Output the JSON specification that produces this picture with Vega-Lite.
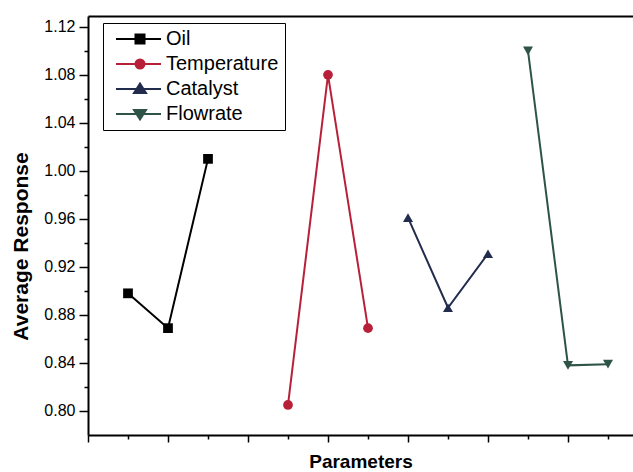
{
  "$schema": "https://vega.github.io/schema/vega-lite/v6.json",
  "width": 545,
  "height": 419,
  "autosize": {"type": "none"},
  "padding": {"left": 88, "top": 16, "right": 0, "bottom": 37},
  "background": "white",
  "config": {
    "font": "Liberation Sans",
    "view": {"stroke": null},
    "axis": {"grid": false, "domainColor": "black", "tickColor": "black", "labelColor": "black", "titleColor": "black"}
  },
  "data": {
    "values": [
      {"param": "Oil", "x": 1, "y": 0.898},
      {"param": "Oil", "x": 2, "y": 0.869},
      {"param": "Oil", "x": 3, "y": 1.010},
      {"param": "Temperature", "x": 5, "y": 0.805},
      {"param": "Temperature", "x": 6, "y": 1.080},
      {"param": "Temperature", "x": 7, "y": 0.869},
      {"param": "Catalyst", "x": 8, "y": 0.961},
      {"param": "Catalyst", "x": 9, "y": 0.886},
      {"param": "Catalyst", "x": 10, "y": 0.931},
      {"param": "Flowrate", "x": 11, "y": 1.100},
      {"param": "Flowrate", "x": 12, "y": 0.838},
      {"param": "Flowrate", "x": 13, "y": 0.839}
    ]
  },
  "resolve": {"axis": {"x": "independent", "y": "independent"}},
  "layer": [
    {
      "mark": {"type": "line", "strokeWidth": 2},
      "encoding": {
        "x": {"field": "x", "type": "quantitative", "scale": {"domain": [0, 13.625], "nice": false, "zero": false},
          "axis": {"orient": "bottom", "values": [0, 2, 4, 6, 8, 10, 12], "labels": false, "tickSize": 7, "tickWidth": 1.5, "domainWidth": 2,
            "title": "Parameters", "titleFontSize": 19, "titleFontWeight": "bold", "titlePadding": 10}},
        "y": {"field": "y", "type": "quantitative", "scale": {"domain": [0.78, 1.129], "nice": false, "zero": false},
          "axis": {"orient": "left", "values": [0.80, 0.84, 0.88, 0.92, 0.96, 1.00, 1.04, 1.08, 1.12], "format": ".2f",
            "labelFontSize": 16, "tickSize": 9, "tickWidth": 1.5, "labelPadding": 4, "domainWidth": 2,
            "title": "Average Response", "titleFontSize": 21, "titleFontWeight": "bold", "titlePadding": 12, "titleY": 230}},
        "color": {"field": "param", "type": "nominal",
          "scale": {"domain": ["Oil", "Temperature", "Catalyst", "Flowrate"], "range": ["#000000", "#b8203a", "#222c4c", "#2d5446"]},
          "legend": {"orient": "none", "legendX": 15, "legendY": 7, "title": null, "padding": 6, "rowPadding": 5,
            "strokeColor": "black", "fillColor": "white", "labelFontSize": 20, "labelColor": "black", "labelOffset": 37,
            "symbolSize": 100, "symbolOpacity": 1, "symbolStrokeWidth": 2}}
      }
    },
    {
      "transform": [{"filter": "datum.param === 'Oil'"}],
      "mark": {"type": "point", "shape": "square", "filled": true, "opacity": 1, "size": 95, "color": "#000000"},
      "encoding": {
        "x": {"field": "x", "type": "quantitative", "axis": null},
        "y": {"field": "y", "type": "quantitative", "axis": null}
      }
    },
    {
      "transform": [{"filter": "datum.param === 'Temperature'"}],
      "mark": {"type": "point", "shape": "circle", "filled": true, "opacity": 1, "size": 95, "color": "#b8203a"},
      "encoding": {
        "x": {"field": "x", "type": "quantitative", "axis": null},
        "y": {"field": "y", "type": "quantitative", "axis": null}
      }
    },
    {
      "transform": [{"filter": "datum.param === 'Catalyst'"}],
      "mark": {"type": "point", "shape": "triangle-up", "filled": true, "opacity": 1, "size": 100, "color": "#222c4c"},
      "encoding": {
        "x": {"field": "x", "type": "quantitative", "axis": null},
        "y": {"field": "y", "type": "quantitative", "axis": null}
      }
    },
    {
      "transform": [{"filter": "datum.param === 'Flowrate'"}],
      "mark": {"type": "point", "shape": "triangle-down", "filled": true, "opacity": 1, "size": 100, "color": "#2d5446"},
      "encoding": {
        "x": {"field": "x", "type": "quantitative", "axis": null},
        "y": {"field": "y", "type": "quantitative", "axis": null}
      }
    },
    {
      "transform": [{"filter": "datum.x < 0"}],
      "mark": {"type": "point", "filled": false, "opacity": 1, "strokeWidth": 2, "size": 100},
      "encoding": {
        "x": {"field": "x", "type": "quantitative", "axis": null},
        "y": {"field": "y", "type": "quantitative", "axis": null},
        "color": {"field": "param", "type": "nominal"},
        "shape": {"field": "param", "type": "nominal",
          "scale": {"domain": ["Oil", "Temperature", "Catalyst", "Flowrate"],
            "range": [
              "M-0.6,0H8.4M3.3,-0.9H5.1V0.9H3.3ZM3.7,-0.5H4.7V0.5H3.7ZM4.1,-0.1H4.3V0.1H4.1Z",
              "M-0.6,0H8.4M3.3,0A0.9,0.9 0 1,0 5.1,0A0.9,0.9 0 1,0 3.3,0ZM3.7,0A0.5,0.5 0 1,0 4.7,0A0.5,0.5 0 1,0 3.7,0ZM4.1,0A0.1,0.1 0 1,0 4.3,0A0.1,0.1 0 1,0 4.1,0Z",
              "M-0.6,0H8.4M4.2,-1.1L5.4,0.8H3.0ZM4.2,-0.47L4.8,0.48H3.6ZM4.2,-0.02L4.38,0.27H4.02Z",
              "M-0.6,0H8.4M4.2,1.1L5.4,-0.8H3.0ZM4.2,0.47L4.8,-0.48H3.6ZM4.2,0.02L4.38,-0.27H4.02Z"
            ]}}
      }
    },
    {
      "mark": {"type": "point", "opacity": 0},
      "encoding": {
        "x": {"field": "x", "type": "quantitative",
          "axis": {"orient": "bottom", "values": [1, 3, 5, 7, 9, 11, 13], "labels": false, "tickSize": 4, "tickWidth": 1.5, "domain": false, "title": null}},
        "y": {"field": "y", "type": "quantitative",
          "axis": {"orient": "left", "values": [0.82, 0.86, 0.90, 0.94, 0.98, 1.02, 1.06, 1.10], "labels": false, "tickSize": 4, "tickWidth": 1.5, "domain": false, "title": null}}
      }
    },
    {
      "mark": {"type": "point", "opacity": 0},
      "encoding": {
        "x": {"field": "x", "type": "quantitative",
          "axis": {"orient": "top", "labels": false, "ticks": false, "domainWidth": 2, "title": null}},
        "y": {"field": "y", "type": "quantitative", "axis": null}
      }
    }
  ]
}
